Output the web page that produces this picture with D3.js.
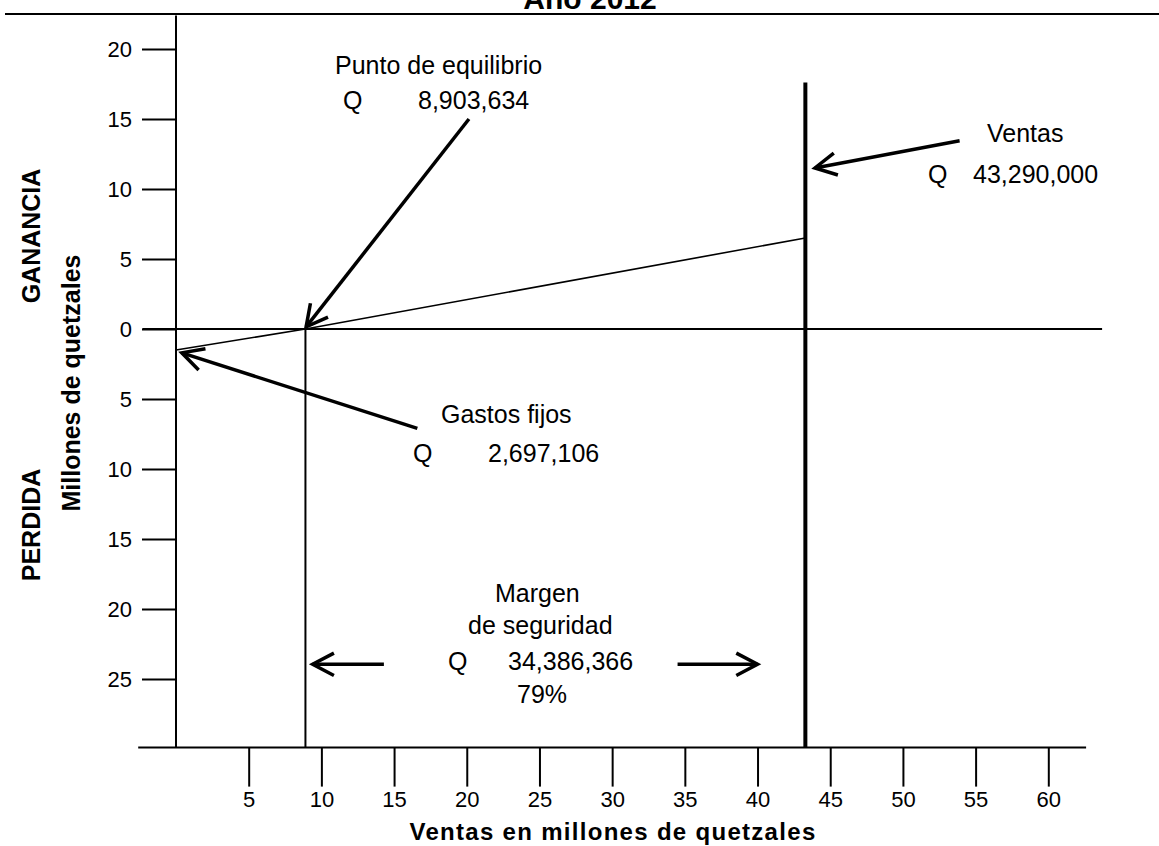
<!DOCTYPE html>
<html>
<head>
<meta charset="utf-8">
<script src="https://cdn.jsdelivr.net/npm/d3@7"></script>
<style>
  html, body { margin: 0; padding: 0; background: #fff; }
  svg { display: block; }
  text { font-family: "Liberation Sans", Arial, sans-serif; fill: #000; }
</style>
</head>
<body>
<svg id="chart" width="1159" height="846"></svg>
<script>
// ---------- data ----------
const title = "Año 2012";
const xTickValues = [5, 10, 15, 20, 25, 30, 35, 40, 45, 50, 55, 60];
const yTickValues = [20, 15, 10, 5, 0, -5, -10, -15, -20, -25];
// profit line: sales (millions) vs profit (+) / loss (-) (millions)
const lineSales  = [0, 8.9, 43.29];
const lineProfit = [-1.5, 0, 6.5];
const breakEvenSales = 8.903634;
const salesValue = 43.29;
const salesLineTop = 17.6;
const xAxisTitle = "Ventas en millones de quetzales";
const yAxisTitle = "Millones de quetzales";
const gainLabel = "GANANCIA";
const lossLabel = "PERDIDA";
const labelBreakEven = ["Punto de equilibrio", "Q", "8,903,634"];
const labelSales = ["Ventas", "Q", "43,290,000"];
const labelFixed = ["Gastos fijos", "Q", "2,697,106"];
const labelMargin = ["Margen", "de seguridad", "Q", "34,386,366", "79%"];

// ---------- scales ----------
const svg = d3.select("#chart");
const x = d3.scaleLinear().domain([0, 60]).range([176, 1048.3]);
const y = d3.scaleLinear().domain([-25, 20]).range([679, 49]);

const ink = "#000";

// title (partly cut off at top, as in the reference)
svg.append("text").attr("x", 590).attr("y", 9).attr("text-anchor", "middle")
  .attr("font-size", 30).attr("font-weight", "bold").text(title);
// header rule
svg.append("line").attr("x1", 5).attr("x2", 1159).attr("y1", 14).attr("y2", 14)
  .attr("stroke", ink).attr("stroke-width", 2);

// ---------- axes ----------
const yBottom = -29.9, yTop = 22.4, xLeft = -2.6, xRight = 62.6;

// y axis
const yAxis = d3.axisLeft(y).tickValues(yTickValues).tickSize(34).tickPadding(10)
  .tickFormat(d => Math.abs(d));
const gy = svg.append("g").attr("transform", `translate(${x(0)},0)`).call(yAxis);
gy.select(".domain").remove();
gy.selectAll(".tick line").attr("stroke", ink).attr("stroke-width", 2);
gy.selectAll(".tick text").attr("font-size", 22).attr("font-family", "Liberation Sans, Arial, sans-serif").attr("fill", ink);
svg.append("line").attr("x1", x(0)).attr("x2", x(0)).attr("y1", y(yTop)).attr("y2", y(yBottom))
  .attr("stroke", ink).attr("stroke-width", 2);

// x axis
const xAxis = d3.axisBottom(x).tickValues(xTickValues).tickSize(39).tickPadding(5);
const gx = svg.append("g").attr("transform", `translate(0,${y(yBottom)})`).call(xAxis);
gx.select(".domain").remove();
gx.selectAll(".tick line").attr("stroke", ink).attr("stroke-width", 2);
gx.selectAll(".tick text").attr("font-size", 22).attr("font-family", "Liberation Sans, Arial, sans-serif").attr("fill", ink);
svg.append("line").attr("x1", x(xLeft)).attr("x2", x(xRight)).attr("y1", y(yBottom)).attr("y2", y(yBottom))
  .attr("stroke", ink).attr("stroke-width", 2);

// zero line
svg.append("line").attr("x1", x(-2.3)).attr("x2", x(63.7)).attr("y1", y(0)).attr("y2", y(0))
  .attr("stroke", ink).attr("stroke-width", 2);

// axis titles
svg.append("text").attr("x", 613).attr("y", 840).attr("text-anchor", "middle")
  .attr("font-size", 24).attr("font-weight", "bold").attr("letter-spacing", 1.3).text(xAxisTitle);
svg.append("text").attr("transform", `translate(80,${383}) rotate(-90)`).attr("text-anchor", "middle")
  .attr("font-size", 25).attr("font-weight", "bold").text(yAxisTitle);
svg.append("text").attr("transform", `translate(40,${236}) rotate(-90)`).attr("text-anchor", "middle")
  .attr("font-size", 25).attr("font-weight", "bold").text(gainLabel);
svg.append("text").attr("transform", `translate(40,${525}) rotate(-90)`).attr("text-anchor", "middle")
  .attr("font-size", 25).attr("font-weight", "bold").text(lossLabel);

// ---------- marks ----------
// break-even vertical
svg.append("line").attr("x1", x(breakEvenSales)).attr("x2", x(breakEvenSales))
  .attr("y1", y(0)).attr("y2", y(yBottom)).attr("stroke", ink).attr("stroke-width", 2);
// sales vertical
svg.append("line").attr("x1", x(salesValue)).attr("x2", x(salesValue))
  .attr("y1", y(salesLineTop)).attr("y2", y(yBottom)).attr("stroke", ink).attr("stroke-width", 4);
// profit line
const lineData = lineSales.map((s, i) => [s, lineProfit[i]]);
svg.append("path").datum(lineData)
  .attr("d", d3.line().x(d => x(d[0])).y(d => y(d[1])))
  .attr("fill", "none").attr("stroke", ink).attr("stroke-width", 1.6);

// ---------- arrows ----------
function arrow(from, to) {
  const x1 = x(from[0]), y1 = y(from[1]), x2 = x(to[0]), y2 = y(to[1]);
  const ang = Math.atan2(y2 - y1, x2 - x1);
  const L = 24, a = Math.PI / 6.5;
  const g = svg.append("g").attr("stroke", ink).attr("stroke-width", 3.5)
    .attr("fill", "none").attr("stroke-linecap", "butt");
  g.append("line").attr("x1", x1).attr("y1", y1).attr("x2", x2).attr("y2", y2);
  g.append("path").attr("stroke-linejoin", "miter").attr("d",
    `M${x2 - L * Math.cos(ang - a)},${y2 - L * Math.sin(ang - a)}L${x2},${y2}L${x2 - L * Math.cos(ang + a)},${y2 - L * Math.sin(ang + a)}`);
}
arrow([20.15, 15.0], [8.95, 0.15]);     // punto de equilibrio
arrow([53.9, 13.45], [43.95, 11.5]);    // ventas
arrow([16.6, -7.1], [0.4, -1.7]);       // gastos fijos
arrow([14.3, -23.95], [9.4, -23.95]);   // margen izq
arrow([34.5, -23.95], [40.0, -23.95]);  // margen der

// ---------- annotation text ----------
function label(t, px, py) {
  svg.append("text").attr("x", px).attr("y", py).attr("font-size", 25).text(t);
}
label(labelBreakEven[0], 335, 74);
label(labelBreakEven[1], 343, 109);
label(labelBreakEven[2], 418, 109);
label(labelSales[0], 987, 142);
label(labelSales[1], 928, 183);
label(labelSales[2], 973, 183);
label(labelFixed[0], 441, 423);
label(labelFixed[1], 413, 462);
label(labelFixed[2], 488, 462);
label(labelMargin[0], 495, 602);
label(labelMargin[1], 468, 634);
label(labelMargin[2], 448, 670);
label(labelMargin[3], 508, 670);
label(labelMargin[4], 517, 703);
</script>
</body>
</html>
